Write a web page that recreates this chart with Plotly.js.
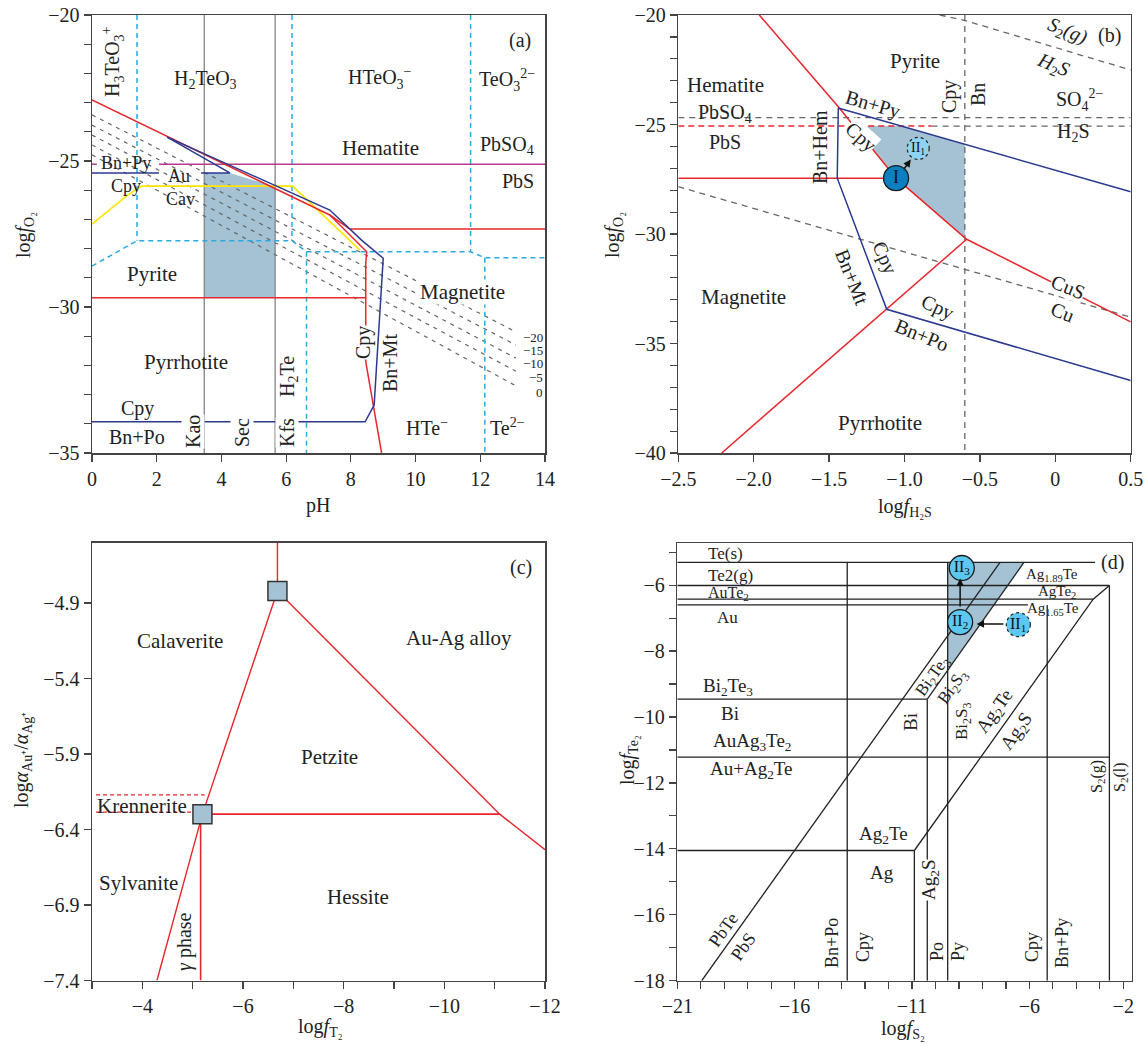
<!DOCTYPE html>
<html><head><meta charset="utf-8">
<script src="https://cdn.plot.ly/plotly-3.0.1.min.js"></script>
<style>html,body{margin:0;padding:0;background:#fff}#chart{width:1148px;height:1046px}</style>
</head><body><div id="chart"></div>
<script>
// ================= DATA =================
// ---- Panel (a): pH vs log fO2 ----
const a_shade_pH  = [3.47, 4.26, 5.66, 5.66, 3.47];
const a_shade_fO2 = [-25.41, -25.41, -25.88, -29.68, -29.68];
const a_kaoSec_pH = [3.47, 3.47, null, 5.66, 5.66];
const a_kaoSec_fO2 = [-20, -35, null, -20, -35];
const a_iso_pH = [0, 13.1];
const a_iso_left  = [-23.42, -23.77, -24.11, -24.45, -24.79];
const a_iso_right = [-30.85, -31.30, -31.75, -32.20, -32.70];
const a_iso_names = ['−20', '−15', '−10', '−5', '0'];
const a_teB_pH  = [0, 1.39, 6.18, 6.63, 11.70, 12.14, 14];
const a_teB_fO2 = [-28.60, -27.73, -27.73, -28.11, -28.11, -28.31, -28.31];
const a_teV_pH  = [1.39, 1.39, null, 6.18, 6.18, null, 11.70, 11.70, null, 6.63, 6.63, null, 12.14, 12.14];
const a_teV_fO2 = [-20, -27.73, null, -20, -27.73, null, -20, -28.11, null, -28.11, -35, null, -28.31, -35];
const a_red1_pH  = [0, 7.35, 7.97, 14];
const a_red1_fO2 = [-22.91, -26.85, -27.33, -27.33];
const a_red2_pH  = [7.35, 8.49, 8.46, 8.46, 8.95];
const a_red2_fO2 = [-26.85, -28.11, -28.51, -31.87, -35];
const a_red3_pH  = [0, 8.46];
const a_red3_fO2 = [-29.68, -29.68];
const a_blue1_pH  = [0, 2.07, null, 3.37, 4.26, 2.32];
const a_blue1_fO2 = [-25.41, -25.41, null, -25.41, -25.41, -24.18];
const a_blue2_pH  = [2.32, 7.35, 8.33, 9.0, 8.72, 8.44, 0];
const a_blue2_fO2 = [-24.18, -26.68, -27.71, -28.33, -33.36, -33.93, -33.93];
const a_mag_pH  = [0, 0.15, null, 2.07, 14];
const a_mag_fO2 = [-25.11, -25.11, null, -25.11, -25.11];
const a_yel_pH  = [0, 1.11, 1.54, 6.20, 8.28];
const a_yel_fO2 = [-27.16, -26.16, -25.86, -25.86, -28.05];

// ---- Panel (b): log fH2S vs log fO2 ----
const b_shade_H2S = [-1.339, -1.023, -0.6, -0.6, -1.056];
const b_shade_fO2 = [-25.07, -25.07, -25.90, -30.17, -27.45];
const b_red1_H2S = [-1.963, -1.439, -1.056, -0.588, 0.5];
const b_red1_fO2 = [-20, -24.19, -27.45, -30.24, -34.01];
const b_red2_H2S = [-2.5, -1.056];
const b_red2_fO2 = [-27.45, -27.45];
const b_red3_H2S = [-2.212, -0.588];
const b_red3_fO2 = [-40, -30.24];
const b_redDash_H2S = [-2.5, -0.82];
const b_redDash_fO2 = [-25.07, -25.07];
const b_grayH_H2S = [-2.5, 0.5, null, -0.82, 0.5];
const b_grayH_fO2 = [-24.69, -24.69, null, -25.07, -25.07];
const b_grayV_H2S = [-0.6, -0.6];
const b_grayV_fO2 = [-20, -40];
const b_grayTop_H2S = [-0.766, -0.61, 0.5];
const b_grayTop_fO2 = [-20, -20.23, -22.51];
const b_grayLow_H2S = [-2.5, 0.5];
const b_grayLow_fO2 = [-27.84, -33.80];
const b_blue1_H2S = [-1.439, 0.5];
const b_blue1_fO2 = [-24.25, -28.07];
const b_blue2_H2S = [-1.439, -1.446, -1.118, 0.5];
const b_blue2_fO2 = [-24.25, -27.45, -33.44, -36.69];
const b_stageI_H2S = [-1.056];
const b_stageI_fO2 = [-27.45];
const b_stageII1_H2S = [-0.909];
const b_stageII1_fO2 = [-26.09];
const b_arrow_H2S = [-1.008, -0.958];   // tail, head
const b_arrow_fO2 = [-27.08, -26.60];

// ---- Panel (c): log fTe2 vs log aAu+/aAg+ ----
const c_redTop_T = [-6.684, -6.684];
const c_redTop_r = [-4.5, -4.82];
const c_redLeft_T = [-6.684, -5.194, -4.29];
const c_redLeft_r = [-4.82, -6.298, -7.4];
const c_redRight_T = [-6.684, -11.10, -12.0];
const c_redRight_r = [-4.82, -6.298, -6.534];
const c_redH_T = [-5.194, -11.10];
const c_redH_r = [-6.298, -6.298];
const c_redV_T = [-5.158, -5.158];
const c_redV_r = [-6.298, -7.4];
const c_dash_T = [-3.08, -5.24, null, -3.08, -5.0];
const c_dash_r = [-6.171, -6.171, null, -6.285, -6.285];
const c_pts_T = [-6.684, -5.194];
const c_pts_r = [-4.82, -6.298];

// ---- Panel (d): log fS2 vs log fTe2 ----
const d_shade_S2 = [-9.48, -6.23, -9.48];
const d_shade_Te2 = [-5.31, -5.31, -8.56];
const d_hor_S2  = [-21, -3.20, null, -21, -2.59, null, -21, -3.28, null, -21, -6.06, null, -21, -10.35, null, -21, -2.59, null, -21, -10.9];
const d_hor_Te2 = [-5.31, -5.31, null, -6.01, -6.01, null, -6.425, -6.425, null, -6.60, -6.60, null, -9.46, -9.46, null, -11.22, -11.22, null, -14.05, -14.05];
const d_ver_S2  = [-13.76, -13.76, null, -10.35, -10.35, null, -10.9, -10.9, null, -9.48, -9.48, null, -5.24, -5.24, null, -2.59, -2.59];
const d_ver_Te2 = [-18, -5.31, null, -18, -9.46, null, -18, -14.05, null, -18, -5.31, null, -18, -6.60, null, -18, -6.01];
const d_diag_S2  = [-19.96, -7.25, null, -10.35, -6.23, null, -10.9, -3.28, -2.59];
const d_diag_Te2 = [-18, -5.31, null, -9.46, -5.31, null, -14.05, -6.425, -6.01];
const d_stage_S2  = [-8.88, -8.95];
const d_stage_Te2 = [-5.48, -7.12];
const d_stage_txt = ['II<sub>3</sub>', 'II<sub>2</sub>'];
const d_stageII1_S2 = [-6.47];
const d_stageII1_Te2 = [-7.20];
const d_arrowUp_S2 = [-8.95, -8.95];
const d_arrowUp_Te2 = [-6.69, -5.80];
const d_arrowL_S2 = [-7.04, -8.25];
const d_arrowL_Te2 = [-7.18, -7.18];

// ================= STYLE / BUILD =================
const W = 1148, H = 1046;
const FONT = '"Liberation Serif", "Times New Roman", serif';
const RED = '#e8262b', BLUE = '#2b3990', MAG = '#b43c8c', YEL = '#ffe600', CYAN = '#29abe2';
const SHADE = '#a4c2d3', GRAYS = '#8c8c8c', GRAYD = '#666666', BLK = '#222';

function ln(x, y, xa, ya, color, width, dash) {
  return {x, y, xaxis: xa, yaxis: ya, type: 'scatter', mode: 'lines', hoverinfo: 'skip',
    line: {color, width: width || 1.5, dash: dash || 'solid'}, showlegend: false, connectgaps: false};
}
function fillPoly(x, y, xa, ya) {
  return {x, y, xaxis: xa, yaxis: ya, type: 'scatter', mode: 'lines', fill: 'toself', fillcolor: SHADE,
    line: {width: 0, color: SHADE}, hoverinfo: 'skip', showlegend: false};
}

const traces = [];
// (a)
traces.push(fillPoly(a_shade_pH, a_shade_fO2, 'x', 'y'));
traces.push(ln(a_kaoSec_pH, a_kaoSec_fO2, 'x', 'y', GRAYS, 1.4));
a_iso_left.forEach((v, i) => traces.push(ln(a_iso_pH, [v, a_iso_right[i]], 'x', 'y', GRAYD, 1.2, '4px,5px')));
traces.push(ln(a_teB_pH, a_teB_fO2, 'x', 'y', CYAN, 1.5, '5px,4px'));
traces.push(ln(a_teV_pH, a_teV_fO2, 'x', 'y', CYAN, 1.5, '5px,4px'));
traces.push(ln(a_mag_pH, a_mag_fO2, 'x', 'y', MAG, 1.5));
traces.push(ln(a_yel_pH, a_yel_fO2, 'x', 'y', YEL, 1.6));
traces.push(ln(a_red1_pH, a_red1_fO2, 'x', 'y', RED, 1.5));
traces.push(ln(a_red2_pH, a_red2_fO2, 'x', 'y', RED, 1.5));
traces.push(ln(a_red3_pH, a_red3_fO2, 'x', 'y', RED, 1.5));
traces.push(ln(a_blue1_pH, a_blue1_fO2, 'x', 'y', BLUE, 1.5));
traces.push(ln(a_blue2_pH, a_blue2_fO2, 'x', 'y', BLUE, 1.5));
// (b)
traces.push(fillPoly(b_shade_H2S, b_shade_fO2, 'x2', 'y2'));
traces.push(ln(b_grayH_H2S, b_grayH_fO2, 'x2', 'y2', GRAYD, 1.3, '6px,5px'));
traces.push(ln(b_grayV_H2S, b_grayV_fO2, 'x2', 'y2', GRAYD, 1.3, '6px,5px'));
traces.push(ln(b_grayTop_H2S, b_grayTop_fO2, 'x2', 'y2', GRAYD, 1.3, '6px,5px'));
traces.push(ln(b_grayLow_H2S, b_grayLow_fO2, 'x2', 'y2', GRAYD, 1.3, '6px,5px'));
traces.push(ln(b_redDash_H2S, b_redDash_fO2, 'x2', 'y2', RED, 1.4, '6px,4px'));
traces.push(ln(b_red1_H2S, b_red1_fO2, 'x2', 'y2', RED, 1.5));
traces.push(ln(b_red2_H2S, b_red2_fO2, 'x2', 'y2', RED, 1.5));
traces.push(ln(b_red3_H2S, b_red3_fO2, 'x2', 'y2', RED, 1.5));
traces.push(ln(b_blue1_H2S, b_blue1_fO2, 'x2', 'y2', BLUE, 1.5));
traces.push(ln(b_blue2_H2S, b_blue2_fO2, 'x2', 'y2', BLUE, 1.5));
traces.push({x: b_stageI_H2S, y: b_stageI_fO2, xaxis: 'x2', yaxis: 'y2', type: 'scatter', mode: 'markers+text',
  text: ['I'], textposition: 'middle center', textfont: {family: FONT, size: 18, color: '#111'},
  marker: {size: 25, color: '#0a7fc2', line: {color: '#1a1a1a', width: 1.3}}, hoverinfo: 'skip', showlegend: false});
// (c)
traces.push(ln(c_dash_T, c_dash_r, 'x3', 'y3', RED, 1.2, '4px,3px'));
traces.push(ln(c_redTop_T, c_redTop_r, 'x3', 'y3', RED, 1.4));
traces.push(ln(c_redLeft_T, c_redLeft_r, 'x3', 'y3', RED, 1.4));
traces.push(ln(c_redRight_T, c_redRight_r, 'x3', 'y3', RED, 1.4));
traces.push(ln(c_redH_T, c_redH_r, 'x3', 'y3', RED, 1.6));
traces.push(ln(c_redV_T, c_redV_r, 'x3', 'y3', RED, 1.6));
traces.push({x: c_pts_T, y: c_pts_r, xaxis: 'x3', yaxis: 'y3', type: 'scatter', mode: 'markers',
  marker: {symbol: 'square', size: 19, color: SHADE, line: {color: '#333', width: 1.5}}, hoverinfo: 'skip', showlegend: false});
// (d)
traces.push(fillPoly(d_shade_S2, d_shade_Te2, 'x4', 'y4'));
traces.push(ln(d_hor_S2, d_hor_Te2, 'x4', 'y4', BLK, 1.3));
traces.push(ln(d_ver_S2, d_ver_Te2, 'x4', 'y4', BLK, 1.3));
traces.push(ln(d_diag_S2, d_diag_Te2, 'x4', 'y4', BLK, 1.3));
traces.push({x: d_stage_S2, y: d_stage_Te2, xaxis: 'x4', yaxis: 'y4', type: 'scatter', mode: 'markers+text',
  text: d_stage_txt, textposition: 'middle center', textfont: {family: FONT, size: 16, color: '#111'},
  marker: {size: 25, color: '#5ac8f0', line: {color: '#1a1a1a', width: 1.3}}, hoverinfo: 'skip', showlegend: false});

// axes
function axisBase(extra) {
  return Object.assign({showline: true, linecolor: '#444', linewidth: 1.5, mirror: true, ticks: 'outside',
    ticklen: 7, tickwidth: 1.2, tickcolor: '#444', showgrid: false, zeroline: false,
    tickfont: {family: FONT, size: 20, color: '#222'}, fixedrange: true}, extra);
}
function minor(tick0, dtick) {
  return {ticks: 'outside', ticklen: 7, tickwidth: 1.2, tickcolor: '#444', tick0, dtick, showgrid: false};
}
const yTop = [1 - 453 / H, 1 - 15 / H];
const layout = {
  width: W, height: H, autosize: false, margin: {l: 0, r: 0, t: 0, b: 0},
  paper_bgcolor: '#fff', plot_bgcolor: '#fff', showlegend: false,
  xaxis: axisBase({domain: [92 / W, 545 / W], range: [0, 14], anchor: 'y', tick0: 0, dtick: 2}),
  yaxis: axisBase({domain: yTop, range: [-35, -20], anchor: 'x', tick0: -35, dtick: 5, minor: minor(-35, 1)}),
  xaxis2: axisBase({domain: [678.3 / W, 1130.7 / W], range: [-2.5, 0.5], anchor: 'y2',
    tickvals: [-2.5, -2, -1.5, -1, -0.5, 0, 0.5], ticktext: ['−2.5', '−2.0', '−1.5', '−1.0', '−0.5', '0', '0.5']}),
  yaxis2: axisBase({domain: yTop, range: [-40, -20], anchor: 'x2', tick0: -40, dtick: 5, minor: minor(-40, 1)}),
  xaxis3: axisBase({domain: [92 / W, 545 / W], range: [-3, -12], anchor: 'y3',
    tickvals: [-4, -6, -8, -10, -12], ticktext: ['−4', '−6', '−8', '−10', '−12'], minor: minor(-3, 1)}),
  yaxis3: axisBase({domain: [1 - 980.5 / H, 1 - 542.7 / H], range: [-7.4, -4.5], anchor: 'x3',
    tickvals: [-4.9, -5.4, -5.9, -6.4, -6.9, -7.4], ticktext: ['−4.9', '−5.4', '−5.9', '−6.4', '−6.9', '−7.4']}),
  xaxis4: axisBase({domain: [677.3 / W, 1131.7 / W], range: [-21, -1.64], anchor: 'y4',
    tickvals: [-21, -16, -11, -6, -2], ticktext: ['−21', '−16', '−11', '−6', '−2'], minor: minor(-21, 1)}),
  yaxis4: axisBase({domain: [1 - 980.7 / H, 1 - 543.3 / H], range: [-18, -4.73], anchor: 'x4',
    tick0: -18, dtick: 2, minor: minor(-18, 1)}),
  shapes: [], annotations: []
};

// dashed stage circles (II1)
function dashedCircle(xa, ya, x, y, r, fill) {
  return {type: 'circle', xref: xa, yref: ya, xsizemode: 'pixel', ysizemode: 'pixel', xanchor: x, yanchor: y,
    x0: -r, x1: r, y0: -r, y1: r, fillcolor: fill, line: {color: '#222', width: 1.2, dash: 'dot'}, layer: 'above'};
}
layout.shapes.push(dashedCircle('x2', 'y2', b_stageII1_H2S[0], b_stageII1_fO2[0], 11, '#8dd3f3'));
layout.shapes.push(dashedCircle('x4', 'y4', d_stageII1_S2[0], d_stageII1_Te2[0], 12, '#5ac8f0'));
function dataText(xa, ya, x, y, text, size) {
  return {xref: xa, yref: ya, x, y, text, showarrow: false, font: {family: FONT, size, color: '#111'}};
}
layout.annotations.push(dataText('x2', 'y2', b_stageII1_H2S[0], b_stageII1_fO2[0], 'II<sub>1</sub>', 14));
layout.annotations.push(dataText('x4', 'y4', d_stageII1_S2[0], d_stageII1_Te2[0], 'II<sub>1</sub>', 16));
function arrow(xa, ya, xs, ys) {
  return {xref: xa, yref: ya, axref: xa, ayref: ya, x: xs[1], y: ys[1], ax: xs[0], ay: ys[0], text: '',
    showarrow: true, arrowhead: 2, arrowsize: 1, arrowwidth: 1.5, arrowcolor: '#111'};
}
layout.annotations.push(arrow('x2', 'y2', b_arrow_H2S, b_arrow_fO2));
layout.annotations.push(arrow('x4', 'y4', d_arrowUp_S2, d_arrowUp_Te2));
layout.annotations.push(arrow('x4', 'y4', d_arrowL_S2, d_arrowL_Te2));

// text labels (pixel placement -> paper)
function lab(px, py, text, size, angle, bg, anchor) {
  const o = {xref: 'paper', yref: 'paper', x: px / W, y: 1 - py / H, text, showarrow: false,
    font: {family: FONT, size: size || 20, color: '#222'}, textangle: angle || 0,
    xanchor: anchor || 'center', yanchor: 'middle', borderpad: 0};
  if (bg) o.bgcolor = '#ffffff';
  return o;
}
const labels = [
  // (a)
  [113, 62, 'H<sub>3</sub>TeO<sub>3</sub><sup>+</sup>', 20, -90],
  [205, 80, 'H<sub>2</sub>TeO<sub>3</sub>', 20],
  [380, 78, 'HTeO<sub>3</sub><sup>−</sup>', 20],
  [507, 80, 'TeO<sub>3</sub><sup>2−</sup>', 20],
  [520, 41, '(a)', 20],
  [380, 148, 'Hematite', 21],
  [507, 145, 'PbSO<sub>4</sub>', 20],
  [518, 181, 'PbS', 20],
  [126, 163, 'Bn+Py', 18],
  [179, 176, 'Au', 18],
  [126, 186, 'Cpy', 18],
  [180, 199, 'Cav', 18],
  [152, 274, 'Pyrite', 21],
  [186, 362, 'Pyrrhotite', 21],
  [137, 408, 'Cpy', 20],
  [137, 437, 'Bn+Po', 20],
  [193, 432, 'Kao', 20, -90, true],
  [242, 433, 'Sec', 20, -90, true],
  [287, 433, 'Kfs', 20, -90, true],
  [288, 377, 'H<sub>2</sub>Te', 20, -90],
  [462, 292, 'Magnetite', 21, 0, true],
  [363, 343, 'Cpy', 20, -90, true],
  [390, 363, 'Bn+Mt', 20, -90],
  [427, 427, 'HTe<sup>−</sup>', 20],
  [507, 427, 'Te<sup>2−</sup>', 20],
  // (b)
  [725, 85, 'Hematite', 21],
  [725, 113, 'PbSO<sub>4</sub>', 20],
  [725, 142, 'PbS', 20],
  [820, 147, 'Bn+Hem', 20, -90],
  [873, 104, 'Bn+Py', 20, 16],
  [860, 137, 'Cpy', 20, 42, true],
  [915, 61, 'Pyrite', 21],
  [950, 97, 'Cpy', 20, -90],
  [978, 95, 'Bn', 20, -90],
  [1067, 32, '<i>S</i><sub>2</sub><i>(g)</i>', 20, 22],
  [1109, 35, '(b)', 20],
  [1053, 65, '<i>H</i><sub>2</sub><i>S</i>', 20, 22],
  [1080, 100, 'SO<sub>4</sub><sup>2−</sup>', 20],
  [1073, 133, 'H<sub>2</sub>S', 20],
  [885, 257, 'Cpy', 20, 66],
  [852, 277, 'Bn+Mt', 20, 68],
  [743, 297, 'Magnetite', 21],
  [1068, 287, 'CuS', 20, 22, true],
  [1062, 312, 'Cu', 20, 22],
  [938, 307, 'Cpy', 20, 25],
  [922, 335, 'Bn+Po', 20, 22],
  [880, 423, 'Pyrrhotite', 21],
  // (c)
  [180, 641, 'Calaverite', 21],
  [459, 638, 'Au-Ag alloy', 21],
  [329, 757, 'Petzite', 21],
  [142, 806, 'Krennerite', 21],
  [138, 883, 'Sylvanite', 21],
  [358, 897, 'Hessite', 21],
  [184, 942, '<i>γ</i> phase', 20, -90],
  [521, 567, '(c)', 20],
  // (d)
  [725, 553, 'Te(s)', 17],
  [730, 575, 'Te2(g)', 17],
  [728, 593, 'AuTe<sub>2</sub>', 16],
  [727, 617, 'Au', 17],
  [728, 687, 'Bi<sub>2</sub>Te<sub>3</sub>', 19],
  [730, 713, 'Bi', 19],
  [752, 742, 'AuAg<sub>3</sub>Te<sub>2</sub>', 19],
  [752, 770, 'Au+Ag<sub>2</sub>Te', 19],
  [1052, 575, 'Ag<sub>1.89</sub>Te', 15],
  [1057, 592, 'AgTe<sub>2</sub>', 15],
  [1053, 609, 'Ag<sub>1.65</sub>Te', 15],
  [1112, 562, '(d)', 20],
  [933, 677, 'Bi<sub>2</sub>Te<sub>3</sub>', 17, -54.5],
  [953, 688, 'Bi<sub>2</sub>S<sub>3</sub>', 17, -54.5],
  [910, 722, 'Bi', 19, -90],
  [963, 722, 'Bi<sub>2</sub>S<sub>3</sub>', 17, -90],
  [995, 712, 'Ag<sub>2</sub>Te', 19, -54.5],
  [1017, 732, 'Ag<sub>2</sub>S', 19, -54.5],
  [1097, 777, 'S<sub>2</sub>(g)', 16, -90],
  [1120, 777, 'S<sub>2</sub>(l)', 16, -90],
  [883, 835, 'Ag<sub>2</sub>Te', 19],
  [882, 872, 'Ag', 19],
  [930, 880, 'Ag<sub>2</sub>S', 19, -90, true],
  [723, 930, 'PbTe', 18, -54.5],
  [743, 947, 'PbS', 18, -54.5],
  [832, 943, 'Bn+Po', 18, -90],
  [863, 947, 'Cpy', 18, -90],
  [937, 952, 'Po', 18, -90],
  [958, 952, 'Py', 18, -90],
  [1032, 947, 'Cpy', 18, -90],
  [1062, 943, 'Bn+Py', 18, -90],
  // axis titles
  [318, 506, 'pH', 20],
  [24, 235, 'log<i>f</i><sub>O₂</sub>', 20, -90],
  [905, 507, 'log<i>f</i><sub>H₂S</sub>', 20],
  [613, 235, 'log<i>f</i><sub>O₂</sub>', 20, -90],
  [320, 1027, 'log<i>f</i><sub>T₂</sub>', 20],
  [22, 760, 'log<i>α</i><sub>Au⁺</sub>/<i>α</i><sub>Ag⁺</sub>', 20, -90],
  [903, 1029, 'log<i>f</i><sub>S₂</sub>', 20],
  [628, 760, 'log<i>f</i><sub>Te₂</sub>', 20, -90]
];
labels.forEach(l => layout.annotations.push(lab(l[0], l[1], l[2], l[3], l[4], l[5])));
// isopleth labels (a)
const isoY = [337, 350, 363, 377, 392];
a_iso_names.forEach((t, i) => layout.annotations.push(lab(544, isoY[i], t, 13, 0, false, 'right')));

Plotly.newPlot('chart', traces, layout, {displayModeBar: false, staticPlot: true});
</script>
</body></html>
